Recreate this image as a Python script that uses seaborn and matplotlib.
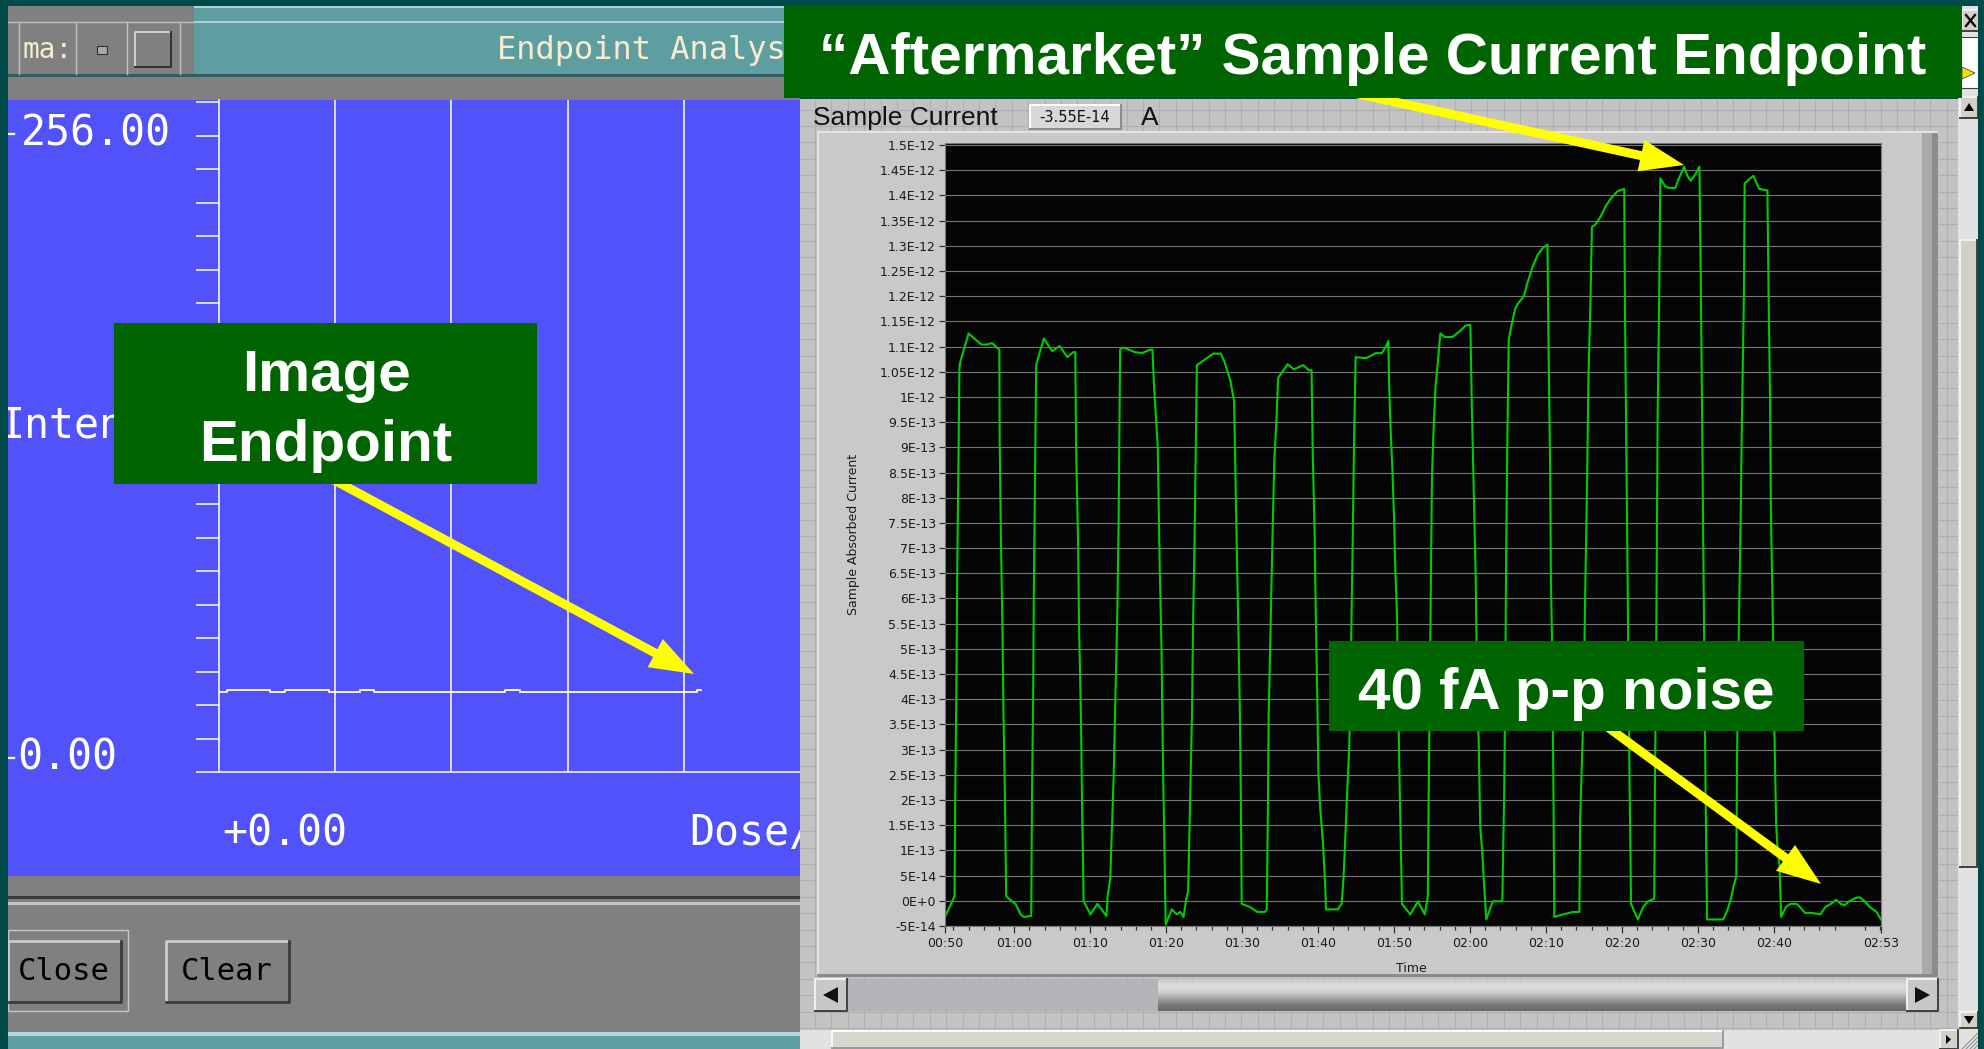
import numpy as np
import pandas as pd
import matplotlib
matplotlib.use("Agg")
import matplotlib.pyplot as plt
import seaborn as sns
from matplotlib.patches import Rectangle, FancyArrow, Polygon
from matplotlib.colors import LinearSegmentedColormap

W, H = 1984, 1049

# ---- LabVIEW chart: sample absorbed current (time in s, current in 1e-13 A)
time_s = [
    # pulse 1
    50.9, 52.15, 52.25, 52.4, 52.5, 52.65, 52.8, 52.9, 54.0, 54.9, 55.7, 56.4, 57.1, 57.45, 58.05, 58.1,
    58.25, 58.45, 58.6, 58.8, 58.95, 59.7, 60.2, 60.85, 61.25, 62.25,
    # pulse 2
    62.35, 62.5, 62.6, 62.75, 62.9, 63.0, 63.9, 65.0, 66.0, 67.0, 67.8, 68.05, 68.15, 68.4, 68.55, 68.8,
    68.95, 69.15, 70.05, 70.95, 72.15,
    # pulse 3
    72.3, 72.65, 73.1, 73.35, 73.6, 73.75, 73.85, 73.95, 74.35, 75.1, 75.85, 76.85, 77.6, 78.0, 78.2, 78.45,
    78.9, 79.15, 79.4, 79.55, 79.75, 79.95, 80.75, 81.4, 81.9, 82.3, 82.65, 82.9,
    # pulse 4
    83.15, 83.4, 83.55, 83.75, 83.9, 84.05, 84.9, 86.2, 87.2, 87.7, 88.45, 88.95, 89.2, 89.45, 89.7, 89.85,
    89.95, 91.0, 92.0, 93.0, 93.25,
    # pulse 5
    93.4, 93.5, 93.75, 94.0, 94.25, 94.5, 94.75, 96.0, 96.8, 97.3, 98.05, 98.8, 99.15, 99.3, 99.55, 99.7,
    99.9, 100.05, 100.3, 100.65, 100.95, 101.05, 102.6, 103.1,
    # pulse 6
    103.35, 103.6, 103.85, 104.1, 104.25, 104.45, 104.6, 104.75, 104.95, 106.35, 107.6, 108.4, 108.9, 109.25,
    109.35, 109.55, 109.8, 110.0, 110.15, 110.4, 110.55, 110.75, 110.9, 111.05, 112.15, 113.15, 114.05, 114.45,
    # pulse 7
    114.55, 114.7, 114.85, 115.0, 115.2, 115.45, 115.8, 116.1, 116.7, 117.7, 118.7, 119.45, 120.05, 120.25,
    120.5, 120.75, 120.9, 121.15, 121.35, 121.6, 121.85, 122.15, 123.0, 123.75, 124.25,
    # pulse 8
    124.5, 124.65, 124.75, 124.9, 125.1, 125.5, 125.95, 126.3, 127.1, 127.55, 128.2, 128.9, 129.55, 130.2,
    130.35, 130.55, 130.65, 130.8, 131.0, 131.1, 132.25, 133.6, 134.4,
    # pulse 9
    134.5, 134.7, 134.95, 135.15, 135.4, 135.6, 135.85, 136.05, 136.5, 137.2, 137.85, 138.5, 139.4, 140.3,
    140.4, 140.55, 140.7, 140.85, 141.0, 141.2, 141.65, 142.1, 142.8, 143.45, 144.25,
    # pulse 10
    144.35, 144.5, 144.6, 144.7, 144.9, 145.05, 145.7, 146.15, 147.05, 147.5, 148.2, 148.6, 149.05, 149.75,
    150.2, 150.4, 150.55, 150.7, 150.85, 151.0, 151.2, 152.0, 153.35, 153.8, 154.25, 154.7, 155.05,
    # pulse 11
    155.15, 155.35, 155.6, 155.8, 156.05, 156.15, 157.3, 158.05, 159.15, 159.3, 159.5, 159.6, 159.85, 160.05,
    160.3, 160.5, 160.75, 160.95,
    # noise tail
    161.6, 162.2, 163.0, 163.4, 164.1, 165.0, 166.1, 166.8, 167.5, 168.2, 168.8, 169.3, 169.9, 170.8, 171.3,
    171.95, 172.6, 173.5, 174.1,
]
current_e13 = [
    -0.32, 0.09, 2.12, 4.25, 6.38, 8.45, 10.58, 10.69, 11.26, 11.14, 11.04, 11.04, 11.07, 11.02, 10.94, 9.11,
    7.29, 5.51, 3.69, 1.91, 0.09, -0.01, -0.06, -0.27, -0.32, -0.30,
    2.12, 4.04, 6.27, 8.45, 10.63, 10.69, 11.16, 10.91, 11.01, 10.79, 10.89, 10.89, 9.06, 7.24, 5.41, 3.59,
    1.76, -0.01, -0.27, -0.06, -0.30,
    0.09, 0.44, 2.47, 4.14, 5.87, 7.54, 9.27, 10.94, 10.98, 10.94, 10.89, 10.87, 10.92, 10.94, 10.94, 10.13,
    9.01, 6.73, 4.96, 3.13, 1.30, -0.47, -0.17, -0.27, -0.22, -0.32, 0.04, 0.19,
    1.91, 3.64, 5.46, 7.19, 8.91, 10.63, 10.72, 10.86, 10.86, 10.69, 10.33, 9.92, 7.85, 5.92, 3.89, 1.91,
    -0.06, -0.12, -0.22, -0.22, -0.17,
    1.81, 3.64, 5.41, 7.19, 8.76, 9.47, 10.38, 10.65, 10.55, 10.58, 10.63, 10.53, 10.53, 8.91, 7.29, 5.72,
    4.04, 2.52, 1.81, 1.15, 0.29, -0.17, -0.17, -0.06,
    0.44, 1.30, 2.22, 3.03, 4.04, 5.97, 7.54, 9.21, 10.79, 10.77, 10.87, 10.87, 10.99, 11.11,
    10.28, 9.37, 8.50, 7.64, 6.68, 5.67, 3.94, 2.22, 1.10, -0.06, -0.27, -0.01, -0.27, 0.09,
    1.91, 4.14, 6.38, 8.45, 9.32, 10.18, 10.74, 11.26, 11.19, 11.19, 11.31, 11.42, 11.43, 9.77,
    8.10, 6.43, 4.70, 3.13, 1.46, 1.00, 0.34, -0.37, -0.01, -0.01, -0.01,
    2.12, 4.35, 6.68, 8.96, 11.14, 11.45, 11.75, 11.85, 12.00, 12.26, 12.56, 12.82, 12.95, 13.02,
    10.84, 8.61, 6.38, 5.16, 1.91, -0.32, -0.27, -0.22, -0.22,
    1.61, 2.62, 3.84, 5.97, 8.20, 10.43, 11.85, 13.37, 13.42, 13.58, 13.78, 13.93, 14.08, 14.13,
    11.75, 9.42, 6.98, 4.75, 2.42, -0.06, -0.22, -0.37, -0.12, -0.01, 0.04,
    2.42, 4.75, 7.19, 9.62, 11.95, 14.34, 14.18, 14.15, 14.15, 14.34, 14.57, 14.39, 14.29, 14.44,
    14.57, 12.05, 9.62, 7.19, 4.75, 2.32, -0.37, -0.37, -0.37, -0.22, -0.01, 0.29, 0.49,
    2.83, 5.06, 7.34, 9.62, 11.95, 14.24, 14.39, 14.13, 14.10, 12.05, 9.92, 7.80, 5.67, 3.54,
    1.51, 1.00, 0.70, -0.32,
    -0.12, -0.06, -0.06, -0.12, -0.24, -0.24, -0.27, -0.12, -0.06, 0.02, -0.06, -0.09, -0.01, 0.06, 0.07,
    -0.01, -0.12, -0.22, -0.37,
]
time_range = (50.9, 174.1)
time_tick_labels = ["00:50", "01:00", "01:10", "01:20", "01:30", "01:40", "01:50",
                    "02:00", "02:10", "02:20", "02:30", "02:40", "02:53"]
current_tick_labels = ["-5E-14", "0E+0", "5E-14", "1E-13", "1.5E-13", "2E-13", "2.5E-13", "3E-13",
                       "3.5E-13", "4E-13", "4.5E-13", "5E-13", "5.5E-13", "6E-13", "6.5E-13", "7E-13",
                       "7.5E-13", "8E-13", "8.5E-13", "9E-13", "9.5E-13", "1E-12", "1.05E-12", "1.1E-12",
                       "1.15E-12", "1.2E-12", "1.25E-12", "1.3E-12", "1.35E-12", "1.4E-12", "1.45E-12",
                       "1.5E-12"]

# ---- old endpoint analysis window: image intensity vs dose
dose = [0.0, 0.07, 0.44, 0.57, 0.95, 1.21, 1.33, 2.46, 2.59, 4.11, 4.15]
intensity = [32, 33, 32, 33, 32, 33, 32, 33, 32, 33, 33]

chart_df = pd.DataFrame({"time_s": time_s, "current_A": np.array(current_e13) * 1e-13})

MONO = "DejaVu Sans Mono"
ARIAL = ["Liberation Sans", "DejaVu Sans"]
plt.rcParams["font.family"] = ["DejaVu Sans"]

fig = plt.figure(figsize=(W / 100, H / 100), dpi=100)
fig.patch.set_facecolor("#004a4a")


def px_axes(z):
    ax = fig.add_axes([0, 0, 1, 1])
    ax.set_xlim(0, W)
    ax.set_ylim(H, 0)
    ax.set_autoscale_on(False)
    ax.axis("off")
    ax.patch.set_alpha(0)
    ax.set_zorder(z)
    return ax


def box(ax, x0, y0, x1, y1, fc, ec="none", lw=0, z=1):
    ax.add_patch(Rectangle((x0, y0), x1 - x0, y1 - y0, facecolor=fc, edgecolor=ec, linewidth=lw, zorder=z))


def bevel(ax, x0, y0, x1, y1, fc, hi="#f2f2f2", lo="#404040", z=1, lw=1.4):
    box(ax, x0, y0, x1, y1, fc, z=z)
    ax.plot([x0, x0, x1], [y1, y0, y0], color=hi, lw=lw, zorder=z + 0.1)
    ax.plot([x0, x1, x1], [y1, y1, y0], color=lo, lw=lw, zorder=z + 0.1)


# ================= left window (X11 endpoint analysis) =================
bg = px_axes(0)
box(bg, 8, 6, 800, 77, "#5f9ea0")
box(bg, 8, 6, 800, 8, "#aad3d3")
box(bg, 194, 21, 800, 23, "#aad3d3")
box(bg, 8, 74, 800, 77, "#2e5e60")
box(bg, 8, 6, 194, 74, "#808080")
for x in [19, 76, 127, 180]:
    bg.plot([x, x], [22, 74], color="#c0c0c0", lw=1)
bg.plot([8, 194], [22, 22], color="#c0c0c0", lw=1)
bg.text(23, 50, "ma:", color="#f6ecd2", fontsize=20, family=MONO, va="center")
box(bg, 97, 46, 107, 54, "#a8a8a8", ec="#303030", lw=0.8)
bevel(bg, 135, 32, 171, 67, "#808080", hi="#d0d0d0", lo="#303030")
bg.text(497, 50, "Endpoint Analysis", color="#f8ecd0", fontsize=23, family=MONO, va="center")
box(bg, 8, 77, 800, 100, "#808080")
box(bg, 8, 100, 800, 876, "#5252fb")
box(bg, 8, 876, 800, 1032, "#808080")
box(bg, 8, 896, 800, 899, "#3c3c3c")
box(bg, 8, 902, 800, 905, "#c4c4c4")
box(bg, 8, 930, 128, 1011, "none", ec="#c8c8c8", lw=1)
bevel(bg, 8, 941, 121, 1002, "#808080", hi="#cccccc", lo="#3a3a3a", lw=2)
bevel(bg, 166, 941, 289, 1002, "#808080", hi="#cccccc", lo="#3a3a3a", lw=2)
bg.text(64, 972, "Close", fontsize=22, family=MONO, ha="center", va="center", color="black")
bg.text(227, 972, "Clear", fontsize=22, family=MONO, ha="center", va="center", color="black")
box(bg, 8, 1032, 800, 1049, "#5f9ea0")
box(bg, 8, 1032, 800, 1036, "#b2d9d9")

big = dict(color="white", fontsize=30, family=MONO, va="center")
bg.text(171, 134, "256.00", ha="right", **big)
bg.text(117, 758, "0.00", ha="right", **big)
# right arm of the "+" sign that the window edge cuts off
bg.plot([8, 14], [134, 134], color="white", lw=1.6)
bg.plot([8, 14], [758, 758], color="white", lw=1.6)
bg.text(0, 426, "Intensity", ha="left", **big)
bg.text(222, 833, "+0.00", ha="left", **big)
bg.text(689, 833, "Dose/", ha="left", **big)

ax_l = fig.add_axes([219 / W, 1 - 772 / H, 581 / W, 672 / H])
ax_l.set_zorder(1)
ax_l.patch.set_alpha(0)
sns.lineplot(x=dose, y=intensity, ax=ax_l, color="white", linewidth=1.3,
             drawstyle="steps-post", estimator=None, legend=False)
ax_l.set_xlim(0, 5)
ax_l.set_ylim(0, 270.4)
ax_l.set_yticks([256 * k / 19 for k in range(21)])
ax_l.set_xticks([1, 2, 3, 4])
ax_l.tick_params(axis="y", direction="out", length=16.5, width=1.1, color="white", labelleft=False)
ax_l.tick_params(axis="x", length=0, labelbottom=False)
ax_l.grid(axis="x", color="white", lw=1.1)
ax_l.grid(axis="y", visible=False)
for s in ["top", "right"]:
    ax_l.spines[s].set_visible(False)
for s in ["left", "bottom"]:
    ax_l.spines[s].set_color("white")
    ax_l.spines[s].set_linewidth(1.1)
ax_l.set_xlabel("")
ax_l.set_ylabel("")

# ================= right window (LabVIEW front panel) =================
rp = px_axes(2)
box(rp, 800, 99, 1958, 1030, "#c3c3c3")
rp.vlines(np.arange(815, 1958, 16.4), 99, 1030, colors="#b0b0b0", lw=0.8)
rp.hlines(np.arange(1028, 99, -16.4), 800, 1958, colors="#b0b0b0", lw=0.8)
rp.text(813, 125, "Sample Current", fontsize=19, family=ARIAL, color="#101010")
bevel(rp, 1030, 105, 1121, 129, "#d8d8d8", hi="#ffffff", lo="#8a8a8a", z=2)
rp.text(1075, 118, "-3.55E-14", fontsize=10.5, ha="center", va="center", color="#101010", zorder=3)
rp.text(1150, 125, "A", fontsize=19, family=ARIAL, ha="center", color="#101010")

# chart frame
box(rp, 817, 131, 1938, 977, "#c9c9c9", z=2)
box(rp, 1922, 131, 1938, 977, "#a9a9a9", z=2)
box(rp, 1932, 131, 1938, 977, "#8c8c8c", z=2)
box(rp, 817, 131, 1938, 133, "#e4e4e4", z=2)
box(rp, 817, 131, 819, 977, "#e4e4e4", z=2)
box(rp, 817, 974, 1938, 977, "#8a8a8a", z=2)

# chart scrollbar
bevel(rp, 815, 979, 847, 1011, "#c8c8c8", z=3)
rp.add_patch(Polygon([(823, 995), (838, 987), (838, 1003)], closed=True, fc="#111111", zorder=4))
box(rp, 847, 979, 1158, 1011, "#b5b3b7", z=3)
thumb_cmap = LinearSegmentedColormap.from_list(
    "thumb", ["#c6c6c6", "#dedede", "#d2d2d2", "#a4a4a4", "#7c7c7c", "#686868"])
rp.imshow(np.linspace(0, 1, 64)[:, None], cmap=thumb_cmap, aspect="auto",
          extent=[1158, 1907, 1011, 979], zorder=3)
bevel(rp, 1907, 979, 1938, 1011, "#c8c8c8", z=3)
rp.add_patch(Polygon([(1930, 995), (1915, 987), (1915, 1003)], closed=True, fc="#111111", zorder=4))

# window scrollbars
box(rp, 800, 1030, 1958, 1049, "#e2e2e2", z=2)
bevel(rp, 832, 1031, 1723, 1048, "#d8d6d0", hi="#fafafa", lo="#9a9a9a", z=3)
bevel(rp, 1940, 1030, 1958, 1049, "#d4d0c8", z=3)
rp.add_patch(Polygon([(1951, 1039.5), (1946, 1035), (1946, 1044)], closed=True, fc="black", zorder=4))
box(rp, 1958, 6, 1978, 1049, "#e2e2e2", z=2)
for k in range(4):
    rp.plot([1962 + 4 * k, 1978], [1049, 1033 + 4 * k], color="#909090", lw=0.8, zorder=3)
bevel(rp, 1962, 10, 1979, 31, "#d4d0c8", z=3)
rp.plot([1966, 1975], [15, 26], color="black", lw=1.6, zorder=4)
rp.plot([1966, 1975], [26, 15], color="black", lw=1.6, zorder=4)
box(rp, 1960, 37, 1978, 88, "white", ec="#404040", lw=0.8, z=3)
rp.add_patch(Polygon([(1962, 67), (1962, 79), (1975, 73)], closed=True, fc="#f0e000", ec="#505050", lw=0.6, zorder=4))
bevel(rp, 1960, 97, 1978, 118, "#d4d0c8", z=3)
rp.add_patch(Polygon([(1969, 103), (1964, 111), (1974, 111)], closed=True, fc="black", zorder=4))
bevel(rp, 1960, 240, 1977, 867, "#d4d0c8", z=3)
bevel(rp, 1960, 1012, 1978, 1028, "#d4d0c8", z=3)
rp.add_patch(Polygon([(1969, 1024), (1964, 1016), (1974, 1016)], closed=True, fc="black", zorder=4))

# LabVIEW waveform chart
ax_c = fig.add_axes([945 / W, 1 - 926 / H, 936 / W, 783 / H])
ax_c.set_zorder(3)
ax_c.set_facecolor("#050505")
sns.lineplot(data=chart_df, x="time_s", y="current_A", ax=ax_c, color="#00cc00",
             linewidth=1.5, estimator=None, sort=False, legend=False)
ax_c.set_xlim(*time_range)
ax_c.set_ylim(-5e-14, 1.504e-12)
ax_c.set_yticks(np.arange(-1, 31) * 5e-14)
ax_c.set_yticklabels(current_tick_labels)
major_t = [time_range[0]] + list(range(60, 170, 10)) + [time_range[1]]
ax_c.set_xticks(major_t)
ax_c.set_xticklabels(time_tick_labels)
ax_c.set_xticks([t for t in range(52, 175, 2) if t % 10 != 0], minor=True)
ax_c.grid(axis="y", color="#767676", lw=0.8)
ax_c.set_axisbelow(True)
ax_c.tick_params(axis="y", length=4.5, width=0.9, color="#303030", labelsize=9,
                 labelcolor="#1a1a1a", pad=2)
ax_c.tick_params(axis="x", which="major", length=5, width=0.9, color="#303030",
                 labelsize=9, labelcolor="#1a1a1a", pad=3)
ax_c.tick_params(axis="x", which="minor", length=3, width=0.9, color="#303030")
for s in ax_c.spines.values():
    s.set_color("#7a7a7a")
    s.set_linewidth(0.8)
ax_c.set_xlabel("Time", fontsize=9, color="#1a1a1a")
ax_c.set_ylabel("Sample Absorbed Current", fontsize=9, color="#1a1a1a")
ax_c.xaxis.set_label_coords(0.498, -0.046)
ax_c.yaxis.set_label_coords(-0.091, 0.5)

# ================= overlay: borders, callouts and arrows =================
top = px_axes(4)
box(top, 0, 0, W, 6, "#004a4a")
box(top, 0, 0, 8, H, "#004a4a")
box(top, 1978, 0, W, H, "#004a4a")

yellow = "#ffff00"
for (x0, y0), (x1, y1) in [((282, 452), (694, 674)),
                           ((1340, 90), (1684, 165)),
                           ((1560, 692), (1821, 884))]:
    top.add_patch(FancyArrow(x0, y0, x1 - x0, y1 - y0, width=9, head_width=32, head_length=44,
                             length_includes_head=True, fc=yellow, ec=yellow, lw=0, zorder=4))

green = "#006400"
box(top, 784, 6, 1962, 98, green, z=5)
box(top, 114, 323, 537, 484, green, z=5)
box(top, 1329, 641, 1804, 731, green, z=5)
lab = dict(color="white", fontsize=42, fontweight="bold", family=ARIAL, ha="center", va="baseline", zorder=6)
top.text(1373, 74, "\u201cAftermarket\u201d Sample Current Endpoint", **lab)
top.text(326, 391, "Image", **lab)
top.text(326, 461, "Endpoint", **lab)
top.text(1566, 709, "40 fA p-p noise", **lab)

fig.savefig("out.png", dpi=100, facecolor=fig.get_facecolor())
